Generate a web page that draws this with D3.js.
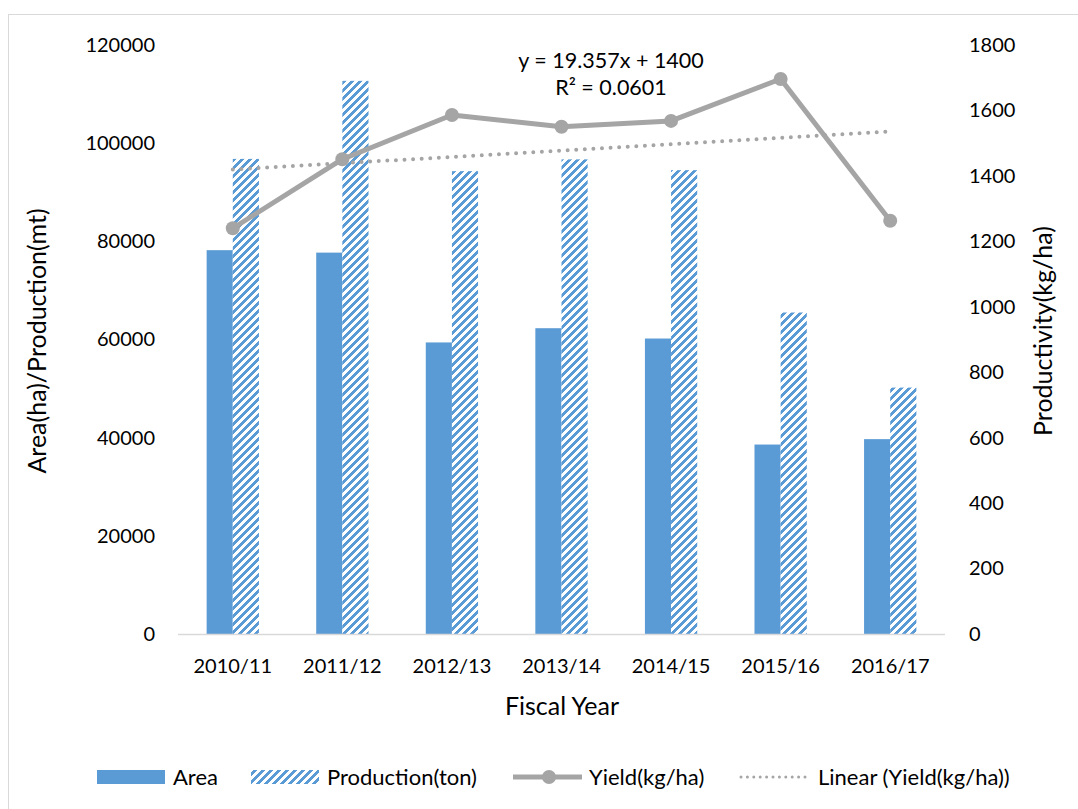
<!DOCTYPE html>
<html>
<head>
<meta charset="utf-8">
<script src="https://cdn.jsdelivr.net/npm/d3@7"></script>
<style>
  html, body { margin: 0; padding: 0; background: #fff; }
  svg { display: block; }
  text { font-family: Lato, "Open Sans", sans-serif; fill: #000; }
</style>
</head>
<body>
<svg id="chart" width="1078" height="809"></svg>
<script>
// Fiscal years and series
const years = ['2010/11', '2011/12', '2012/13', '2013/14', '2014/15', '2015/16', '2016/17'];
const area = [78200, 77700, 59400, 62300, 60200, 38600, 39700];          // ha
const production = [96800, 112700, 94300, 96700, 94500, 65500, 50200];   // mt
const yieldKgHa = [1240, 1451, 1586, 1550, 1568, 1696, 1263];            // kg/ha

// Axis ticks
const leftTicks = [0, 20000, 40000, 60000, 80000, 100000, 120000];
const rightTicks = [0, 200, 400, 600, 800, 1000, 1200, 1400, 1600, 1800];

// Linear trend of yield (x = 1..7)
const trendSlope = 19.357;
const trendIntercept = 1400;
const trendR2 = 0.0601;

const svg = d3.select('#chart');
const W = 1078, H = 809;
const plot = { left: 178, right: 945, top: 45, bottom: 634 };

const BLUE = '#5B9BD5', GREY = '#A5A5A5', AXIS = '#D9D9D9';
const TICK_FS = 20, TITLE_FS = 25, LEGEND_FS = 22, EQ_FS = 21.5;

// Outer chart frame
svg.append('rect').attr('x', 8.5).attr('y', 14.5).attr('width', W + 20).attr('height', H + 20)
  .attr('fill', '#fff').attr('stroke', AXIS).attr('stroke-width', 1);

// Wide upward diagonal pattern for production bars
const defs = svg.append('defs');
const pat = defs.append('pattern').attr('id', 'wideUpDiag')
  .attr('patternUnits', 'userSpaceOnUse').attr('width', 8).attr('height', 8);
pat.append('rect').attr('width', 8).attr('height', 8).attr('fill', '#fff');
const cells = [];
for (let r = 0; r < 8; r++) {
  for (let k = 0; k < 4; k++) cells.push({ r, c: ((7 - r) + k) % 8 });
}
pat.selectAll('rect.px').data(cells).join('rect').attr('class', 'px')
  .attr('x', d => d.c).attr('y', d => d.r).attr('width', 1).attr('height', 1)
  .attr('fill', BLUE).attr('shape-rendering', 'crispEdges');

// Scales
const x0 = d3.scaleBand().domain(years).range([plot.left, plot.right]).paddingInner(0).paddingOuter(0);
const bw = x0.bandwidth();
const gapWidth = 2.19;  // gap between clusters, as a fraction of one bar
const barW = bw / (2 + gapWidth);
const x1 = d3.scaleBand().domain(['Area', 'Production']).range([(bw - 2 * barW) / 2, (bw + 2 * barW) / 2]);
const yL = d3.scaleLinear().domain([0, 120000]).range([plot.bottom, plot.top]);
const yR = d3.scaleLinear().domain([0, 1800]).range([plot.bottom, plot.top]);
const xc = i => x0(years[i]) + bw / 2;

// Bars
const g = svg.append('g');
g.selectAll('rect.area').data(years).join('rect').attr('class', 'area')
  .attr('x', d => x0(d) + x1('Area')).attr('width', x1.bandwidth())
  .attr('y', (d, i) => yL(area[i])).attr('height', (d, i) => yL(0) - yL(area[i]))
  .attr('fill', BLUE);
g.selectAll('rect.prod').data(years).join('rect').attr('class', 'prod')
  .attr('x', d => x0(d) + x1('Production')).attr('width', x1.bandwidth())
  .attr('y', (d, i) => yL(production[i])).attr('height', (d, i) => yL(0) - yL(production[i]))
  .attr('fill', 'url(#wideUpDiag)');

// Category axis line
svg.append('line').attr('x1', plot.left).attr('x2', plot.right)
  .attr('y1', plot.bottom + 0.5).attr('y2', plot.bottom + 0.5)
  .attr('stroke', AXIS).attr('stroke-width', 1.5);

// Trend line (dotted)
const trend = [1, years.length].map(n => [xc(n - 1), yR(trendSlope * n + trendIntercept)]);
svg.append('path').attr('d', d3.line()(trend)).attr('fill', 'none')
  .attr('stroke', GREY).attr('stroke-width', 4).attr('stroke-linecap', 'round')
  .attr('stroke-dasharray', '0 8.6');

// Yield line with markers
const yieldLine = d3.line().x((d, i) => xc(i)).y(d => yR(d));
svg.append('path').attr('d', yieldLine(yieldKgHa)).attr('fill', 'none')
  .attr('stroke', GREY).attr('stroke-width', 5).attr('stroke-linejoin', 'round');
svg.selectAll('circle.yield').data(yieldKgHa).join('circle').attr('class', 'yield')
  .attr('cx', (d, i) => xc(i)).attr('cy', d => yR(d)).attr('r', 7).attr('fill', GREY);

// Left axis
const leftAxis = svg.append('g').attr('transform', `translate(${plot.left - 23},0)`)
  .call(d3.axisLeft(yL).tickValues(leftTicks).tickSize(0).tickPadding(0).tickFormat(d3.format('d')));
leftAxis.select('.domain').remove();
leftAxis.selectAll('text').attr('font-size', TICK_FS).attr('font-family', 'Lato').attr('fill', '#000');

// Right axis
const rightAxis = svg.append('g').attr('transform', `translate(${plot.right + 24},0)`)
  .call(d3.axisRight(yR).tickValues(rightTicks).tickSize(0).tickPadding(0).tickFormat(d3.format('d')));
rightAxis.select('.domain').remove();
rightAxis.selectAll('text').attr('font-size', TICK_FS).attr('font-family', 'Lato').attr('fill', '#000');

// Category axis labels
const bottomAxis = svg.append('g').attr('transform', `translate(0,${plot.bottom})`)
  .call(d3.axisBottom(x0).tickSize(0).tickPadding(26));
bottomAxis.select('.domain').remove();
bottomAxis.selectAll('text').attr('font-size', TICK_FS).attr('font-family', 'Lato').attr('fill', '#000')
  .attr('dy', '0.32em').attr('y', 33);

// Axis titles
svg.append('text').attr('x', 562).attr('y', 706).attr('dy', '0.35em')
  .attr('text-anchor', 'middle').attr('font-size', TITLE_FS).text('Fiscal Year');
svg.append('text').attr('transform', 'translate(37,341) rotate(-90)').attr('dy', '0.35em')
  .attr('text-anchor', 'middle').attr('font-size', TITLE_FS).text('Area(ha)/Production(mt)');
svg.append('text').attr('transform', 'translate(1043,331) rotate(-90)').attr('dy', '0.35em')
  .attr('text-anchor', 'middle').attr('font-size', TITLE_FS).text('Productivity(kg/ha)');

// Trend equation label
svg.append('text').attr('x', 611).attr('y', 60.5).attr('dy', '0.35em')
  .attr('text-anchor', 'middle').attr('font-size', EQ_FS)
  .text(`y = ${trendSlope}x + ${trendIntercept}`);
svg.append('text').attr('x', 611).attr('y', 87.5).attr('dy', '0.35em')
  .attr('text-anchor', 'middle').attr('font-size', EQ_FS)
  .text(`R² = ${trendR2.toFixed(4)}`);

// Legend
const ly = 777;
const legend = svg.append('g');
legend.append('rect').attr('x', 97).attr('y', ly - 7).attr('width', 68).attr('height', 14).attr('fill', BLUE);
legend.append('text').attr('x', 173).attr('y', ly).attr('dy', '0.35em').attr('font-size', LEGEND_FS).text('Area');
legend.append('rect').attr('x', 251).attr('y', ly - 7).attr('width', 68).attr('height', 14).attr('fill', 'url(#wideUpDiag)');
legend.append('text').attr('x', 327).attr('y', ly).attr('dy', '0.35em').attr('font-size', LEGEND_FS).text('Production(ton)');
legend.append('line').attr('x1', 513).attr('x2', 582).attr('y1', ly).attr('y2', ly)
  .attr('stroke', GREY).attr('stroke-width', 5);
legend.append('circle').attr('cx', 549).attr('cy', ly).attr('r', 7).attr('fill', GREY);
legend.append('text').attr('x', 589).attr('y', ly).attr('dy', '0.35em').attr('font-size', LEGEND_FS).text('Yield(kg/ha)');
legend.append('line').attr('x1', 741).attr('x2', 805).attr('y1', ly).attr('y2', ly)
  .attr('stroke', GREY).attr('stroke-width', 3).attr('stroke-linecap', 'round')
  .attr('stroke-dasharray', '0 6.4');
legend.append('text').attr('x', 818).attr('y', ly).attr('dy', '0.35em').attr('font-size', LEGEND_FS).text('Linear (Yield(kg/ha))');
</script>
</body>
</html>
